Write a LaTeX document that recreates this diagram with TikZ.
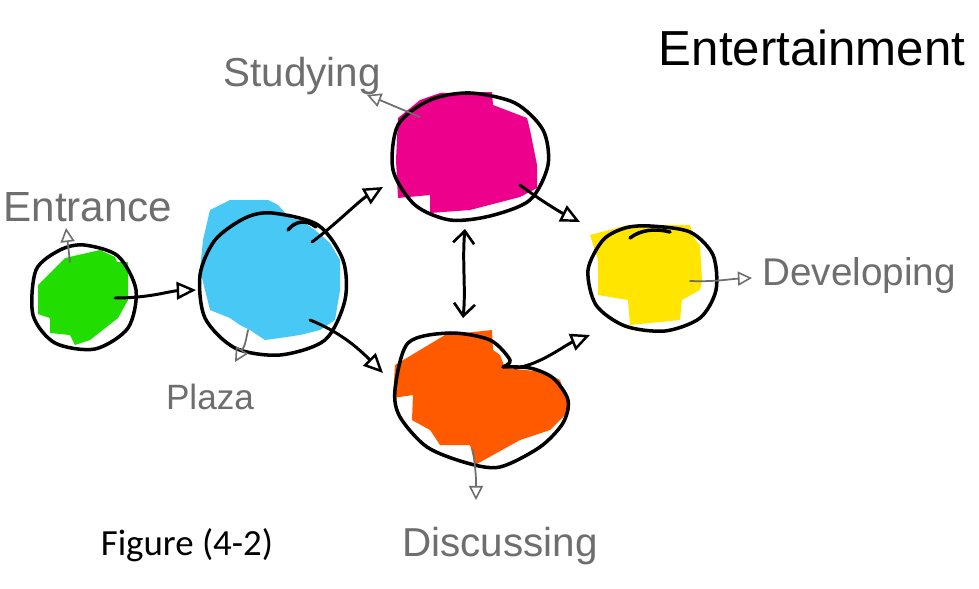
\documentclass[tikz,border=0pt]{standalone}
\usepackage{fontspec}
\setmainfont{Liberation Sans}
\newfontfamily\capfont{Carlito}
\usetikzlibrary{arrows.meta}
\definecolor{cgreen}{RGB}{34,221,0}
\definecolor{cblue}{RGB}{72,200,244}
\definecolor{cmag}{RGB}{236,0,140}
\definecolor{cyel}{RGB}{255,229,0}
\definecolor{corange}{RGB}{255,90,0}
\definecolor{pencil}{RGB}{110,110,110}
\tikzset{
  outline/.style={line width=2pt, line join=round, line cap=round},
  conn/.style={line width=1.7pt, line cap=round, -{Triangle[open,length=11pt,width=10pt,line width=1.4pt]}},
  dconn/.style={line width=1.7pt, line cap=round, {Straight Barb[length=7pt,width=12pt,line width=1.5pt]}-{Straight Barb[length=7pt,width=12pt,line width=1.5pt]}},
  gconn/.style={line width=1pt, draw=pencil, line cap=round, -{Triangle[open,length=8pt,width=8pt,line width=0.9pt]}},
  hand/.style={text=pencil, inner sep=0pt},
}
\begin{document}
\begin{tikzpicture}[x=0.02cm,y=-0.02cm]
\useasboundingbox (0,0) rectangle (979,588);
\clip (0,0) rectangle (979,588);
\fill[white] (0,0) rectangle (979,588);

% ---- fills (blocky marker strokes)
\fill[cgreen] (38,285) -- (65,258) -- (100,250) -- (115,257) -- (117,262) -- (128,262) -- (128,300) -- (118,318) -- (90,340) -- (75,345) -- (70,335) -- (50,333) -- (50,318) -- (38,314) -- cycle;
\fill[cblue] (203,240) -- (210,210) -- (230,200) -- (268,200) -- (278,205) -- (290,218) -- (300,220) -- (315,230) -- (330,243) -- (340,260) -- (340,290) -- (335,320) -- (320,330) -- (300,335) -- (280,338) -- (265,340) -- (250,330) -- (240,325) -- (230,318) -- (210,310) -- (205,290) -- (200,270) -- cycle;
\fill[cmag] (398,118) -- (420,100) -- (440,93) -- (492,92) -- (493,105) -- (527,118) -- (530,130) -- (537,165) -- (537,188) -- (520,197) -- (470,210) -- (430,213) -- (430,195) -- (398,198) -- (396,160) -- cycle;
\fill[cyel] (590,235) -- (628,225) -- (690,225) -- (695,240) -- (700,245) -- (702,280) -- (700,290) -- (682,300) -- (680,320) -- (630,325) -- (628,300) -- (598,295) -- (598,260) -- cycle;
\fill[corange] (395,365) -- (445,335) -- (492,330) -- (493,350) -- (500,355) -- (505,368) -- (545,372) -- (560,380) -- (570,410) -- (550,430) -- (520,440) -- (475,465) -- (470,445) -- (440,445) -- (430,430) -- (412,420) -- (413,395) -- (393,398) -- cycle;

% ---- outlines
\draw[outline] plot[smooth cycle] coordinates {(84,245) (118,256) (136,290) (128,328) (95,349) (55,343) (33,315) (36,270) (60,250)};
\draw[outline] plot[smooth cycle] coordinates {(272,213) (318,225) (343,260) (345,300) (325,340) (280,355) (235,348) (205,318) (200,275) (215,240) (245,218)};
\draw[outline] (288,230) .. controls (295,221) and (306,219) .. (316,227);
\draw[outline] plot[smooth cycle] coordinates {(470,93) (515,103) (543,130) (548,165) (530,200) (490,216) (450,220) (415,205) (393,170) (398,125) (430,100)};
\draw[outline] plot[smooth cycle] coordinates {(650,226) (690,232) (713,255) (716,290) (700,318) (665,331) (625,326) (596,305) (588,270) (603,240) (625,228)};
\draw[outline] (630,238) .. controls (640,230) and (655,228) .. (670,232);
\draw[outline] plot[smooth] coordinates {(503,367) (510,360) (490,340) (450,333) (408,343) (395,390) (400,417) (427,447) (467,463) (500,467) (540,447) (563,423) (568,400) (553,378) (530,368) (503,367)};

% ---- named anchor points for connectors
\coordinate (gOut) at (115,298);  \coordinate (bIn) at (196,290);
\coordinate (bOutU) at (312,242); \coordinate (mIn) at (383,187);
\coordinate (bOutD) at (310,320); \coordinate (oIn) at (383,373);
\coordinate (mOut) at (520,185);  \coordinate (yInU) at (580,222);
\coordinate (mBot) at (465,229);  \coordinate (oTop) at (463,318);
\coordinate (oOut) at (515,368);  \coordinate (yInD) at (590,335);
\coordinate (yOut) at (690,281);  \coordinate (devIn) at (752,278);
\coordinate (gUp) at (70,262);    \coordinate (entIn) at (66,228);
\coordinate (bDn) at (248,330);   \coordinate (plzIn) at (235,362);
\coordinate (mUL) at (420,117);   \coordinate (stuIn) at (367,95);
\coordinate (oDn) at (473,450);   \coordinate (disIn) at (476,500);

% ---- black connectors
\draw[conn] (gOut) .. controls (150,298) and (170,291) .. (bIn);
\draw[conn] (bOutU) .. controls (335,225) and (360,200) .. (mIn);
\draw[conn] (bOutD) .. controls (340,332) and (358,348) .. (oIn);
\draw[conn] (mOut) .. controls (540,200) and (560,212) .. (yInU);
\draw[dconn] (oTop) .. controls (466,290) and (462,260) .. (mBot);
\draw[conn] (oOut) .. controls (540,365) and (565,345) .. (yInD);

% ---- pencil connectors
\draw[gconn] (yOut) .. controls (715,282) and (730,279) .. (devIn);
\draw[gconn] (gUp) -- (entIn);
\draw[gconn] (bDn) .. controls (245,345) .. (plzIn);
\draw[gconn] (mUL) .. controls (400,108) .. (stuIn);
\draw[gconn] (oDn) .. controls (476,475) .. (disIn);

% ---- labels
\node[hand, font=\fontsize{24}{26}\selectfont] (entl) at (88,207) {Entrance};
\node[hand, font=\fontsize{20}{22}\selectfont] (plzl) at (210,397) {Plaza};
\node[hand, font=\fontsize{23}{25}\selectfont] (stul) at (302,76) {Studying};
\node[hand, font=\fontsize{22}{24}\selectfont, anchor=west] (devl) at (762,276) {Developing};
\node[hand, font=\fontsize{23}{25}\selectfont] (disl) at (500,546) {Discussing};
\node[inner sep=0pt, font=\fontsize{28}{30}\selectfont] (title) at (812,48) {Entertainment};
\node[inner sep=0pt, font=\capfont\fontsize{21}{23}\selectfont] (fig) at (187,545) {Figure (4-2)};
\end{tikzpicture}
\end{document}
